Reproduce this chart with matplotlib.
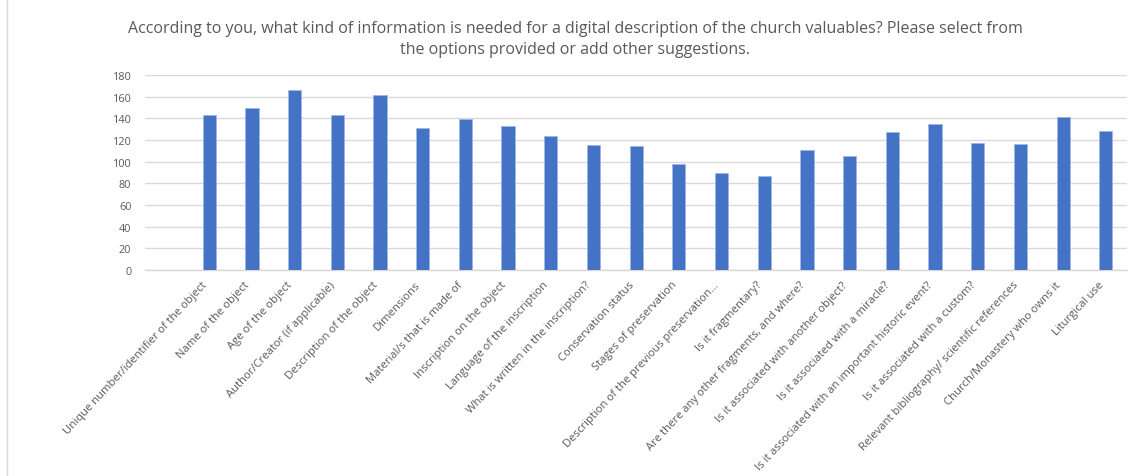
import matplotlib.pyplot as plt
from matplotlib.patches import Rectangle
from matplotlib.transforms import offset_copy

# Data
categories = [
    "",
    "Unique number/identifier of the object",
    "Name of the object",
    "Age of the object",
    "Author/Creator (if applicable)",
    "Description of the object",
    "Dimensions",
    "Material/s that is made of",
    "Inscription on the object",
    "Language of the inscription",
    "What is written in the inscription?",
    "Conservation status",
    "Stages of preservation",
    "Description of the previous preservation...",
    "Is it fragmentary?",
    "Are there any other fragments, and where?",
    "Is it associated with another object?",
    "Is it associated with a miracle?",
    "Is it associated with an important historic event?",
    "Is it associated with a custom?",
    "Relevant bibliography/ scientific references",
    "Church/Monastery who owns it",
    "Liturgical use",
]
counts = [0, 143, 149, 166, 143, 161, 131, 139, 133, 124, 115, 114, 98, 89, 87,
          111, 105, 127, 135, 117, 116, 141, 128]
yticks = list(range(0, 181, 20))

plt.rcParams['font.family'] = ['Open Sans', 'DejaVu Sans']

fig = plt.figure(figsize=(11.34, 4.77), dpi=100)
ax = fig.add_axes([0.128, 0.432, 0.866, 0.409])

x = list(range(len(categories)))
ax.bar(x, counts, width=0.31, color='#4472C4', edgecolor='#9DB6E4', linewidth=0.6, zorder=3)

ax.set_xlim(-0.5, len(categories) - 0.5)
ax.set_ylim(0, 180)
ax.set_yticks(yticks)
ax.set_xticks(x)
ax.set_xticklabels([])
ax.tick_params(axis='y', labelsize=7.8, labelcolor='#595959', length=0, pad=10)
ax.tick_params(axis='x', length=0)

# rotated category labels, nudged left/down like the original
lbl_trans = offset_copy(ax.get_xaxis_transform(), fig=fig, x=-8, y=-9, units='dots')
for xi, name in zip(x, categories):
    ax.text(xi, 0, name, transform=lbl_trans, rotation=47, ha='right', va='top',
            rotation_mode='anchor', fontsize=8.1, color='#595959')

ax.grid(axis='y', color='#D9D9D9', linewidth=1, zorder=0)
for s in ['top', 'right', 'left']:
    ax.spines[s].set_visible(False)
ax.spines['bottom'].set_color('#D9D9D9')
ax.spines['bottom'].set_linewidth(1)

fig.text(0.507, 0.918,
         "According to you, what kind of information is needed for a digital description of the church valuables? Please select from\n"
         "the options provided or add other suggestions.",
         ha='center', va='center', fontsize=11.5, color='#595959', linespacing=1.4)

fig.patches.append(Rectangle((0.006, -0.01), 1.2, 1.2, transform=fig.transFigure,
                             fill=False, edgecolor='#D9D9D9', linewidth=1))

fig.savefig('out.png', dpi=100)
